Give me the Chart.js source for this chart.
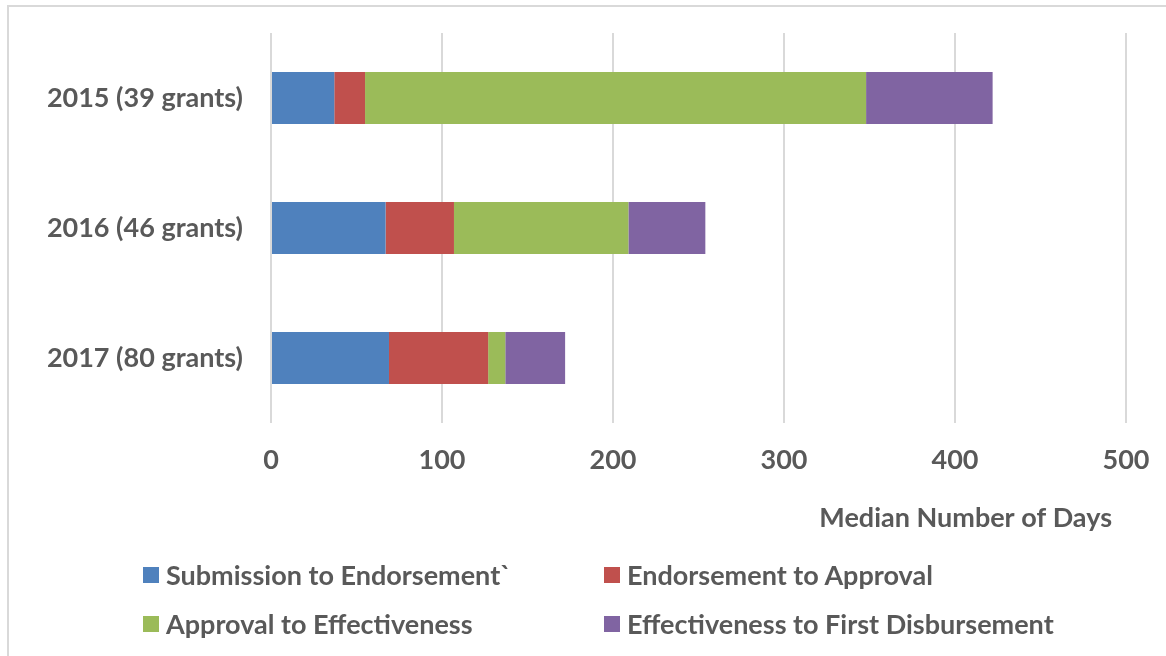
<!DOCTYPE html>
<html>
<head>
<meta charset="utf-8">
<script src="https://cdn.jsdelivr.net/npm/chart.js@4/dist/chart.umd.min.js"></script>
<style>
  html, body { margin: 0; padding: 0; background: #fff; overflow: hidden; }
  #wrap { position: relative; width: 1166px; height: 656px; }
  #frame { position: absolute; left: 7px; top: 5px; width: 1170px; height: 660px; border: 2px solid #d9d9d9; box-sizing: border-box; }
  #chart { position: absolute; left: 0; top: 0; }
  #legend { position: absolute; left: 143px; top: 550px; width: 1020px; font: bold 27px Lato, sans-serif; color: #595959; }
  .row { display: flex; height: 49px; align-items: center; }
  .item { display: flex; align-items: center; width: 461px; flex: none; white-space: nowrap; }
  .sw { width: 16px; height: 16px; margin-right: 7px; flex: none; }
</style>
</head>
<body>
<div id="wrap">
  <div id="frame"></div>
  <canvas id="chart" width="1166" height="656"></canvas>
  <div id="legend"></div>
</div>
<script>
const categories = ["2015 (39 grants)", "2016 (46 grants)", "2017 (80 grants)"];
const seriesNames = [
  "Submission to Endorsement`",
  "Endorsement to Approval",
  "Approval to Effectiveness",
  "Effectiveness to First Disbursement",
];
const submissionToEndorsement = [37, 67, 69];
const endorsementToApproval = [18, 40, 58];
const approvalToEffectiveness = [293, 102, 10];
const effectivenessToDisbursement = [74, 45, 35];
const xTicks = [0, 100, 200, 300, 400, 500];
const xTitle = "Median Number of Days";
const colors = ["#4f81bd", "#c0504d", "#9bbb59", "#8064a2"];

const textColor = "#595959";
const font = { family: "Lato, sans-serif", size: 27, weight: "bold" };

const values = [submissionToEndorsement, endorsementToApproval, approvalToEffectiveness, effectivenessToDisbursement];

// keep tick labels from pushing the plot area around
const noPad = (scale) => {
  scale.paddingTop = scale.paddingBottom = scale.paddingLeft = scale.paddingRight = 0;
};

// axis title sits a little in from the right end of the axis, like the original
const axisTitle = {
  id: "axisTitle",
  afterDraw(chart) {
    const { ctx, chartArea } = chart;
    ctx.save();
    ctx.font = `${font.weight} ${font.size}px ${font.family}`;
    ctx.fillStyle = textColor;
    ctx.textAlign = "right";
    ctx.textBaseline = "middle";
    ctx.fillText(xTitle, chartArea.right - 14, chartArea.bottom + 95);
    ctx.restore();
  },
};

const chart = new Chart(document.getElementById("chart"), {
  type: "bar",
  data: {
    labels: categories,
    datasets: values.map((data, i) => ({
      label: seriesNames[i],
      data,
      backgroundColor: colors[i],
      borderWidth: 0,
      barPercentage: 0.4,
      categoryPercentage: 1,
    })),
  },
  options: {
    indexAxis: "y",
    responsive: false,
    animation: false,
    layout: { padding: { left: 0, top: 33, right: 40, bottom: 0 } },
    plugins: { legend: { display: false }, tooltip: { enabled: false } },
    scales: {
      x: {
        stacked: true,
        min: xTicks[0],
        max: xTicks[xTicks.length - 1],
        afterBuildTicks: (scale) => { scale.ticks = xTicks.map((v) => ({ value: v })); },
        afterFit: (scale) => { scale.height = 233; noPad(scale); },
        grid: { color: "#d9d9d9", lineWidth: 2, drawTicks: false },
        border: { display: false },
        ticks: { color: textColor, font, padding: 21 },
      },
      y: {
        stacked: true,
        afterFit: (scale) => { scale.width = 271; noPad(scale); },
        grid: { display: false, drawTicks: false },
        border: { display: false },
        ticks: { color: textColor, font, padding: 28 },
      },
    },
  },
  plugins: [axisTitle],
});

// two-column legend under the chart, built from the datasets
const legend = document.getElementById("legend");
const items = chart.data.datasets.map((ds) =>
  `<div class="item"><span class="sw" style="background:${ds.backgroundColor}"></span>${ds.label}</div>`
);
for (let r = 0; r < items.length; r += 2) {
  legend.insertAdjacentHTML("beforeend", `<div class="row">${items[r]}${items[r + 1] ?? ""}</div>`);
}
</script>
</body>
</html>
